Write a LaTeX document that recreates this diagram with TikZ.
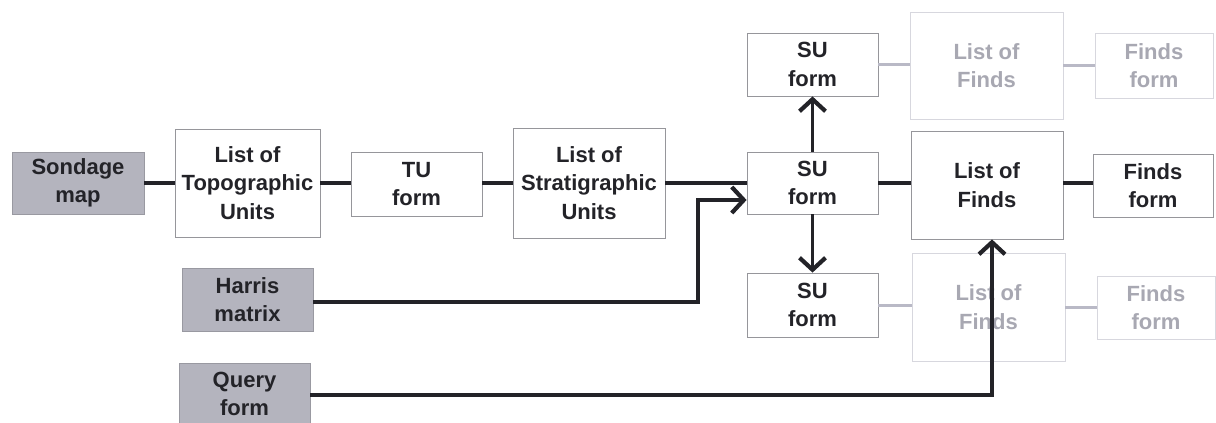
\documentclass[tikz,border=0pt]{standalone}
\usepackage{fontspec}
\setmainfont{Liberation Sans}
\usetikzlibrary{arrows.meta}
\definecolor{ink}{RGB}{35,35,40}
\definecolor{boxline}{RGB}{150,150,155}
\definecolor{grayfill}{RGB}{180,180,190}
\definecolor{faintink}{RGB}{168,168,178}
\definecolor{faintline}{RGB}{215,215,222}
\definecolor{faintconn}{RGB}{185,185,198}
\begin{document}
\begin{tikzpicture}[x=1pt,y=-1pt,
  every node/.style={inner sep=0pt, align=center, font=\fontsize{22}{28.5}\selectfont\bfseries},
  box/.style={draw=boxline, line width=0.8pt, fill=white, text=ink},
  grbox/.style={draw=grayfill!85!black, line width=0.6pt, fill=grayfill, text=ink},
  faint/.style={draw=faintline, line width=0.8pt, fill=white, text=faintink},
  conn/.style={draw=ink, line width=3.8pt},
  fconn/.style={draw=faintconn, line width=3pt},
  arr/.style={conn, -{Straight Barb[length=12pt,width=26pt,line width=4.2pt]}}
]
\useasboundingbox (0,0) rectangle (1216,423);
\fill[white] (0,0) rectangle (1216,423);

% faint boxes
\node[faint, minimum width=153pt, minimum height=107pt] (toplist) at (986.5,65.5) {List of\\Finds};
\node[faint, minimum width=118pt, minimum height=65pt] (topfinds) at (1154,65.5) {Finds\\form};
\node[faint, minimum width=153pt, minimum height=108pt] (botlist) at (988.5,307) {List of\\Finds};
\node[faint, minimum width=118pt, minimum height=63pt] (botfinds) at (1156,307.5) {Finds\\form};

% gray boxes
\node[grbox, minimum width=132pt, minimum height=62pt] (sond) at (78,183) {Sondage\\map};
\node[grbox, minimum width=131pt, minimum height=63pt] (harris) at (247.5,299.5) {Harris\\matrix};
\node[grbox, minimum width=131pt, minimum height=62pt] (query) at (244.5,394) {Query\\form};

% main boxes
\node[box, minimum width=145pt, minimum height=108pt] (topo) at (247.5,183) {List of\\Topographic\\Units};
\node[box, minimum width=131pt, minimum height=64pt] (tu) at (416.5,184) {TU\\form};
\node[box, minimum width=152pt, minimum height=110pt] (strat) at (589,183) {List of\\Stratigraphic\\Units};
\node[box, minimum width=131pt, minimum height=62pt] (su) at (812.5,183) {SU\\form};
\node[box, minimum width=131pt, minimum height=63pt] (topsu) at (812.5,64.5) {SU\\form};
\node[box, minimum width=131pt, minimum height=64pt] (botsu) at (812.5,305) {SU\\form};
\node[box, minimum width=152pt, minimum height=108pt] (midlist) at (987,185) {List of\\Finds};
\node[box, minimum width=120pt, minimum height=63pt] (midfinds) at (1153,185.5) {Finds\\form};

% faint connectors
\draw[fconn] (topsu.east) -- (topsu.east -| toplist.west);
\draw[fconn] (toplist.east) -- (toplist.east -| topfinds.west);
\draw[fconn] (botsu.east) -- (botsu.east -| botlist.west);
\draw[fconn] (botlist.east) -- (botlist.east -| botfinds.west);

% dark connectors
\draw[conn] (sond.east) -- (sond.east -| topo.west);
\draw[conn] (topo.east) -- (topo.east -| tu.west);
\draw[conn] (tu.east |- topo.east) -- (strat.west);
\draw[conn] (strat.east) -- (su.west);
\draw[conn] (su.east) -- (su.east -| midlist.west);
\draw[conn] (midlist.east |- su.east) -- (su.east -| midfinds.west);

\coordinate (hturn) at (698,302);
\coordinate (hin) at (su.west |- 0,200);
\draw[arr] (harris.east |- hturn) -- (hturn) -- (hturn |- hin) -- (hin);

\draw[arr] (su.north) -- (topsu.south);
\draw[arr] (su.south) -- (botsu.north);

\coordinate (qturn) at (992,395);
\draw[arr] (query.east |- qturn) -- (qturn) -- (qturn |- midlist.south);
\end{tikzpicture}
\end{document}
